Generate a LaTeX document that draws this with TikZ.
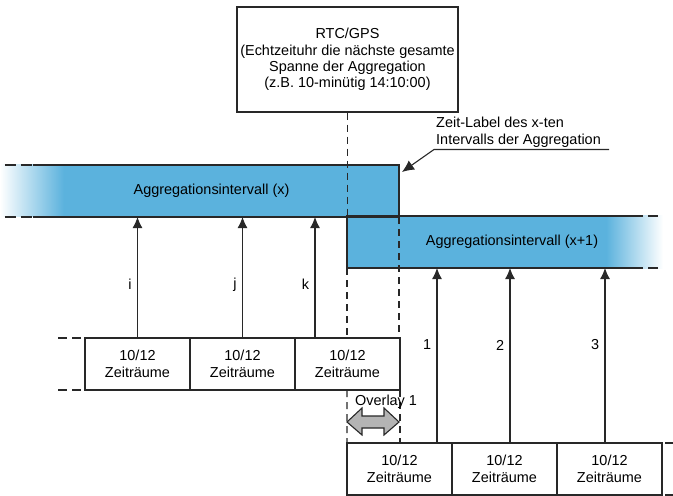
\documentclass[tikz,border=0pt]{standalone}
\usepackage{fontspec}
\setmainfont{Liberation Sans}
\usetikzlibrary{arrows.meta,positioning,calc}
\definecolor{AggBlue}{RGB}{91,178,221}
\definecolor{FrameGray}{RGB}{40,40,40}
\definecolor{OverlayGray}{RGB}{180,180,180}
% the path box is mapped onto 25bp--75bp of the shading
\pgfdeclarehorizontalshading{fadeinleft}{100bp}{color(0bp)=(white); color(25bp)=(white);
  color(33bp)=(AggBlue); color(100bp)=(AggBlue)}
\pgfdeclarehorizontalshading{fadeoutright}{100bp}{color(0bp)=(AggBlue); color(66bp)=(AggBlue);
  color(75bp)=(white); color(100bp)=(white)}
\tikzset{
  clockbox/.style={draw=FrameGray,line width=1.2bp,fill=white,
    minimum width=221bp,minimum height=105bp,align=center,inner sep=0pt},
  timebox/.style={draw=FrameGray,line width=1.2bp,fill=white,
    minimum width=105bp,minimum height=52bp,align=center,inner sep=0pt,outer sep=0pt},
  aggbar/.style={minimum height=52bp,inner sep=0pt,outer sep=0pt},
  barline/.style={draw=FrameGray,line width=1.2bp},
  bardash/.style={barline,dash pattern=on 11bp off 5bp},
  stubdash/.style={barline,dash pattern=on 9bp off 5bp},
  markline/.style={draw=FrameGray,line width=1.2bp,dash pattern=on 7bp off 5bp},
  feedarrow/.style={-{Latex[length=11bp,width=10bp]},line width=1.1bp,draw=FrameGray},
  leaderarrow/.style={-{Latex[length=12bp,width=11bp]},line width=1.1bp,draw=FrameGray},
  overlayarrow/.style={draw=FrameGray,fill=OverlayGray,line width=1.1bp,line join=miter},
}

\begin{document}
\begin{tikzpicture}[x=1bp,y=-1bp,font=\fontsize{14.5}{16.5}\selectfont]
  \useasboundingbox (0,0) rectangle (673,496);
  % aggregation intervals
  \node[aggbar,shading=fadeinleft,minimum width=399bp,
        label={[xshift=12bp]center:Aggregationsintervall (x)}] (barx) at (199.5,191) {};
  \node[aggbar,shading=fadeoutright,minimum width=316bp,
        label={[xshift=7bp]center:Aggregationsintervall (x+1)}] (barnext) at (505,242) {};
  % clock
  \node[clockbox] (rtc) at (347.5,59.5)
    {RTC/GPS\\(Echtzeituhr die nächste gesamte\\Spanne der Aggregation\\(z.B. 10-minütig 14:10:00)};
  % time slots
  \node[timebox] (r1a) at (137.5,364) {10/12\\Zeiträume};
  \node[timebox,right=0pt of r1a] (r1b) {10/12\\Zeiträume};
  \node[timebox,right=0pt of r1b] (r1c) {10/12\\Zeiträume};
  \node[timebox] (r2a) at (399.5,469) {10/12\\Zeiträume};
  \node[timebox,right=0pt of r2a] (r2b) {10/12\\Zeiträume};
  \node[timebox,right=0pt of r2b] (r2c) {10/12\\Zeiträume};
  % interval borders
  \draw[markline] (rtc.south) -- (rtc.south |- barnext.north);
  \draw[markline] (barnext.south west) -- (barnext.south west |- r1c.north);
  \draw[markline] (barnext.south west |- r1c.south) -- (r2a.north west);
  \draw[markline] (barx.south east) -- (barx.south east |- r1c.north);
  \draw[markline] (r1c.south east) -- (r1c.south east |- r2a.north);
  % bar outlines
  \draw[barline] ([xshift=33bp]barx.north west) -- (barx.north east)
    -- (barx.south east) -- ([xshift=33bp]barx.south west);
  \draw[bardash] ([xshift=5bp]barx.north west) -- ([xshift=33bp]barx.north west);
  \draw[bardash] ([xshift=5bp]barx.south west) -- ([xshift=33bp]barx.south west);
  \draw[barline] ([xshift=-20bp]barnext.north east) -- (barnext.north west)
    -- (barnext.south west) -- ([xshift=-20bp]barnext.south east);
  \draw[barline] ([xshift=-15bp]barnext.north east) -- ([xshift=-5bp]barnext.north east);
  \draw[barline] ([xshift=-15bp]barnext.south east) -- ([xshift=-5bp]barnext.south east);
  \draw[stubdash] ([xshift=-27bp]r1a.north west) -- (r1a.north west);
  \draw[stubdash] ([xshift=-27bp]r1a.south west) -- (r1a.south west);
  \draw[barline] ([xshift=3bp]r2c.north east) -- ([xshift=11bp]r2c.north east);
  \draw[barline] ([xshift=3bp]r2c.south east) -- ([xshift=11bp]r2c.south east);
  % slots feeding the intervals
  \draw[feedarrow] (r1a.north) -- (r1a.north |- barx.south) node[pos=0.44,left=2bp] {i};
  \draw[feedarrow] (r1b.north) -- (r1b.north |- barx.south) node[pos=0.44,left=2bp] {j};
  \draw[feedarrow] ([xshift=-32.5bp]r1c.north) -- ([xshift=-32.5bp]r1c.north |- barx.south)
    node[pos=0.44,left=2bp] {k};
  \draw[feedarrow] ([xshift=37.5bp]r2a.north) -- ([xshift=37.5bp]r2a.north |- barnext.south)
    node[pos=0.56,left=2bp] {1};
  \draw[feedarrow] ([xshift=5.5bp]r2b.north) -- ([xshift=5.5bp]r2b.north |- barnext.south)
    node[pos=0.56,left=2bp] {2};
  \draw[feedarrow] ([xshift=-4.5bp]r2c.north) -- ([xshift=-4.5bp]r2c.north |- barnext.south)
    node[pos=0.56,left=2bp] {3};
  % time label
  \node[anchor=south west,align=left,inner sep=2bp] (zeitlabel) at (434,149.5)
    {Zeit-Label des x-ten\\Intervalls der Aggregation};
  \draw[leaderarrow] ([xshift=6bp]zeitlabel.south east) -- (zeitlabel.south west)
    -- ([xshift=3bp,yshift=-7bp]barx.north east);
  % overlap
  \coordinate (overlapmid) at (barnext.south west |- 0,422);
  \draw[overlayarrow] (overlapmid) -- ++(15,-14) -- ++(0,8) -- ++(22,0) -- ++(0,-8)
    -- ++(15,14) -- ++(-15,13) -- ++(0,-7) -- ++(-22,0) -- ++(0,7) -- cycle;
  \node[anchor=base west,inner sep=0pt] (overlaplabel) at (355,405) {Overlay 1};
\end{tikzpicture}
\end{document}
